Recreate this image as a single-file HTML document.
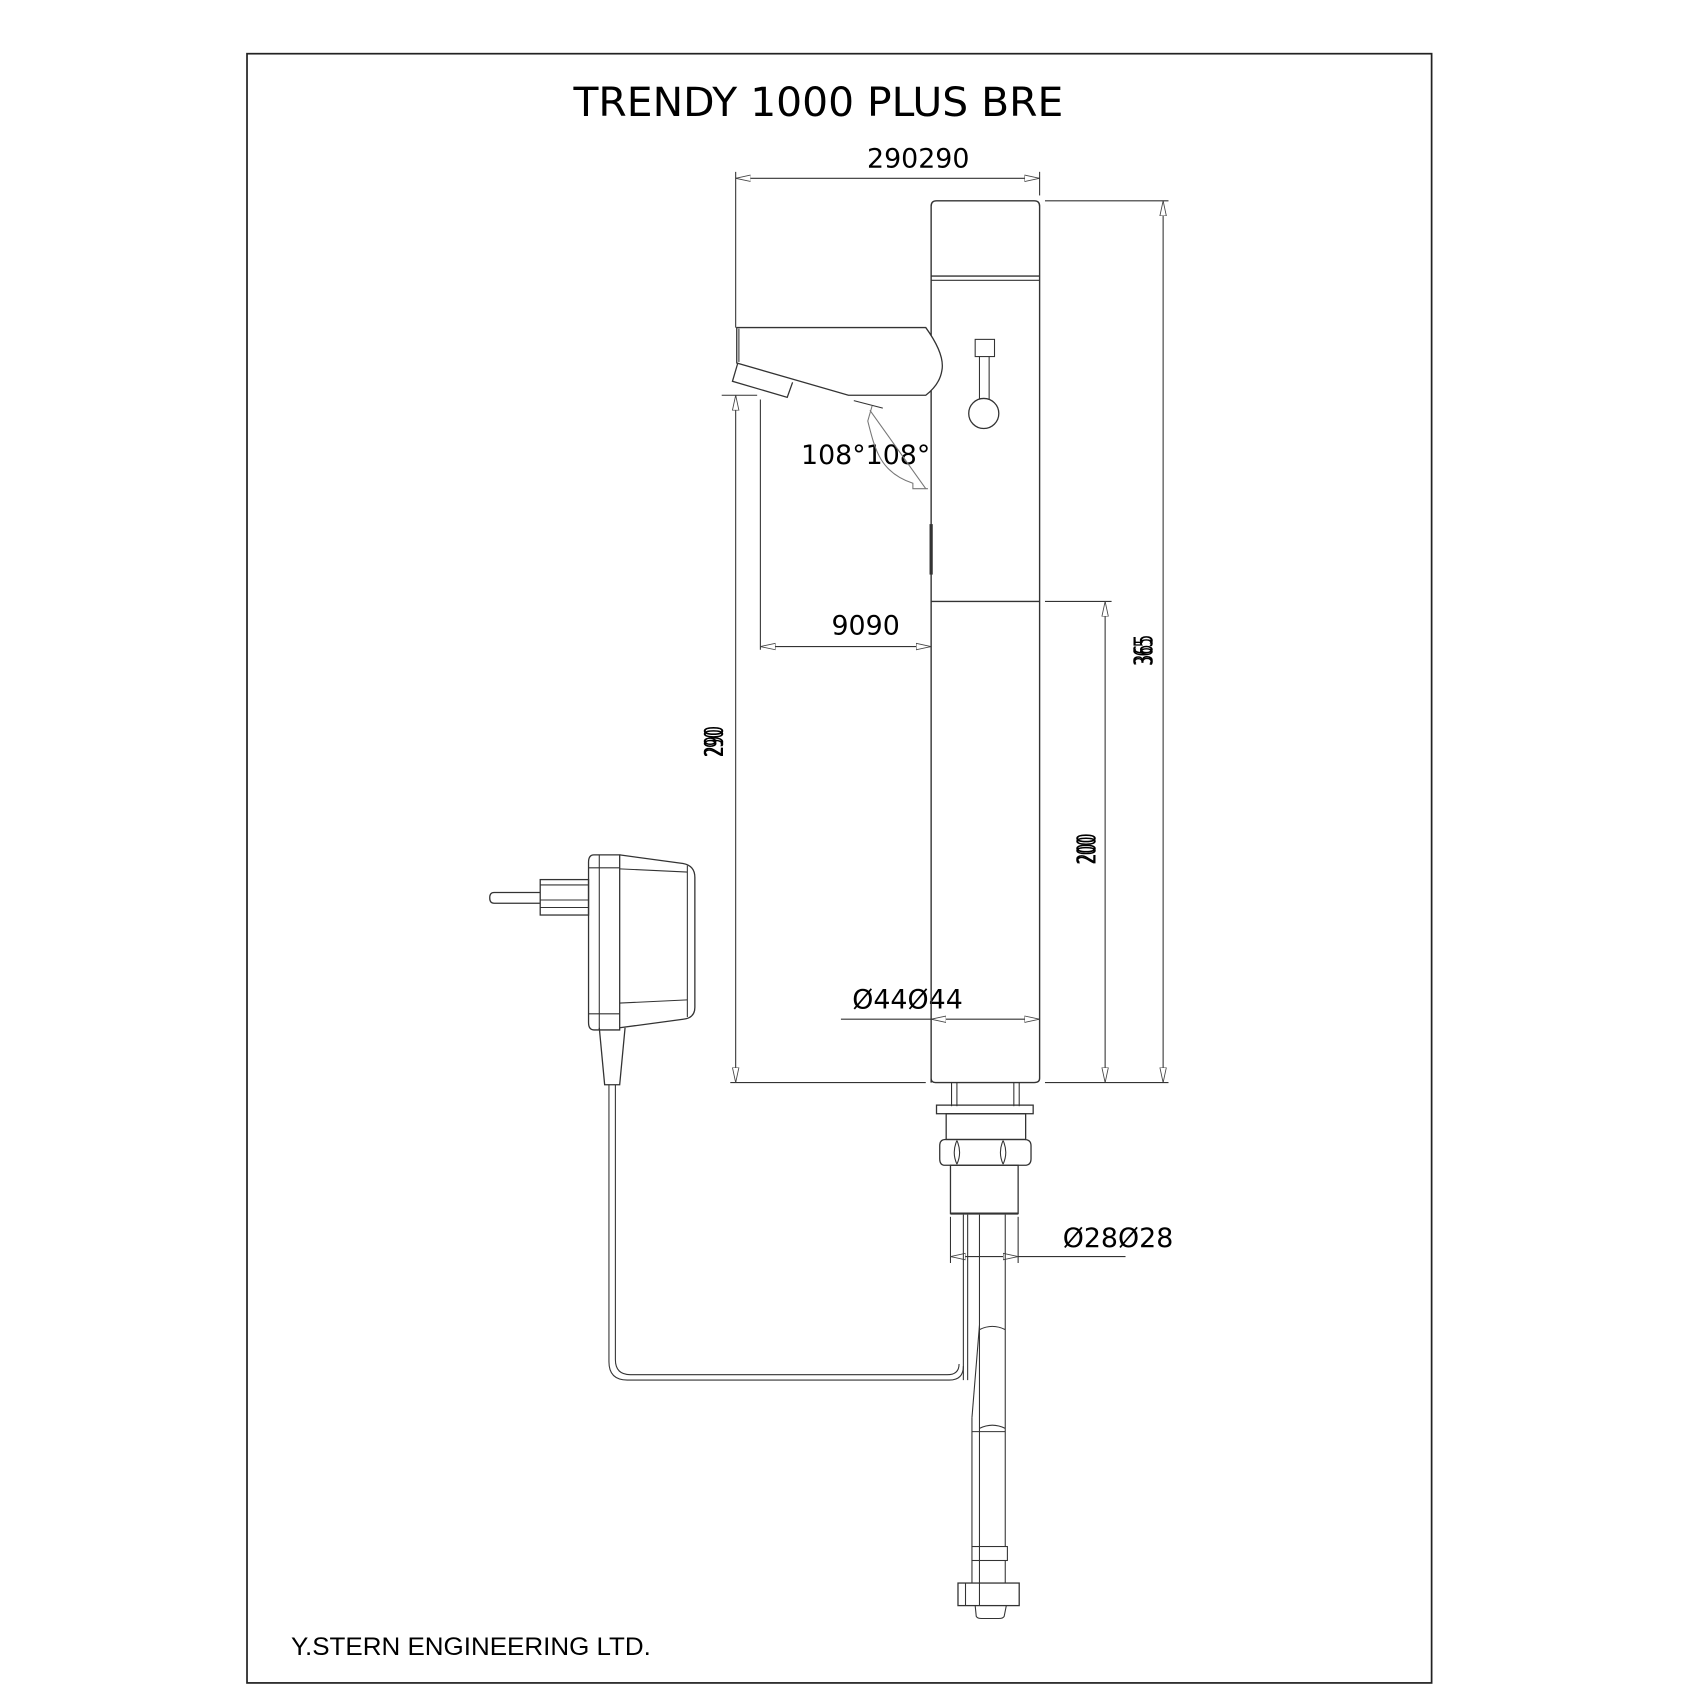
<!DOCTYPE html>
<html><head><meta charset="utf-8"><style>html,body{margin:0;padding:0;background:#fff}svg{display:block}</style></head>
<body>
<svg width="1684" height="1684" viewBox="0 0 1568 1568" xmlns="http://www.w3.org/2000/svg">
<defs>
<marker id="a" markerWidth="14" markerHeight="8" refX="14" refY="4" orient="auto-start-reverse" markerUnits="userSpaceOnUse"><path d="M0,1 L14,4 L0,7 Z" fill="#fff" stroke="#444" stroke-width="0.8"/></marker>
</defs>
<rect width="1568" height="1568" fill="#fff"/>
<rect x="230" y="50" width="1103" height="1517" fill="none" stroke="#222" stroke-width="1.6"/>
<g font-family="'DejaVu Sans','Liberation Sans',sans-serif" fill="#000">
<text x="762" y="108" font-size="37" text-anchor="middle" textLength="456" lengthAdjust="spacingAndGlyphs">TRENDY 1000 PLUS BRE</text>
<text x="855" y="156" font-size="25" text-anchor="middle">290290</text>
<text x="806" y="432" font-size="25" text-anchor="middle">108°108°</text>
<text x="806" y="591" font-size="25" text-anchor="middle">9090</text>
<text x="845" y="939" font-size="25" text-anchor="middle">Ø44Ø44</text>
<text x="1041" y="1161" font-size="25" text-anchor="middle">Ø28Ø28</text>
<text transform="translate(673,690) rotate(-90)" font-size="24" text-anchor="middle" textLength="28" lengthAdjust="spacingAndGlyphs">290</text>
<text transform="translate(673,692) rotate(-90)" font-size="24" text-anchor="middle" textLength="26" lengthAdjust="spacingAndGlyphs">290</text>
<text transform="translate(1073,605) rotate(-90)" font-size="24" text-anchor="middle" textLength="28" lengthAdjust="spacingAndGlyphs">365</text>
<text transform="translate(1073,607) rotate(-90)" font-size="24" text-anchor="middle" textLength="26" lengthAdjust="spacingAndGlyphs">365</text>
<text transform="translate(1020,790) rotate(-90)" font-size="24" text-anchor="middle" textLength="28" lengthAdjust="spacingAndGlyphs">200</text>
<text transform="translate(1020,792) rotate(-90)" font-size="24" text-anchor="middle" textLength="26" lengthAdjust="spacingAndGlyphs">200</text>
</g>
<text x="271" y="1541" font-family="'Liberation Sans',sans-serif" font-size="23" textLength="335" lengthAdjust="spacingAndGlyphs">Y.STERN ENGINEERING LTD.</text>
<g fill="none" stroke="#333" stroke-width="1">
<line x1="685" y1="166" x2="968" y2="166" marker-start="url(#a)" marker-end="url(#a)"/>
<line x1="685" y1="160" x2="685" y2="305"/>
<line x1="968" y1="160" x2="968" y2="182"/>
<line x1="973" y1="187" x2="1088" y2="187"/>
<line x1="1083" y1="187" x2="1083" y2="1008" marker-start="url(#a)" marker-end="url(#a)"/>
<line x1="973" y1="560" x2="1035" y2="560"/>
<line x1="1029" y1="560" x2="1029" y2="1008" marker-start="url(#a)" marker-end="url(#a)"/>
<line x1="680" y1="1008" x2="862" y2="1008"/>
<line x1="973" y1="1008" x2="1088" y2="1008"/>
<line x1="672" y1="368" x2="705" y2="368"/>
<line x1="685" y1="368" x2="685" y2="1008" marker-start="url(#a)" marker-end="url(#a)"/>
<line x1="708" y1="372" x2="708" y2="605"/>
<line x1="708" y1="602" x2="867" y2="602" marker-start="url(#a)" marker-end="url(#a)"/>
<line x1="783" y1="949" x2="867" y2="949"/>
<line x1="867" y1="949" x2="968" y2="949" marker-start="url(#a)" marker-end="url(#a)"/>
<line x1="885" y1="1133" x2="885" y2="1176"/>
<line x1="948" y1="1133" x2="948" y2="1176"/>
<line x1="948" y1="1170" x2="1048" y2="1170"/>
<line x1="885" y1="1170" x2="948" y2="1170" marker-start="url(#a)" marker-end="url(#a)"/>
<line x1="795" y1="373" x2="822" y2="380"/>
<path d="M810,382 L862,455" stroke="#777"/>
<path d="M812,378 L808,392 C815,420 820,440 850,450 L850,455 L864,455" stroke="#777"/>
<path d="M867,1008 L867,192 Q867,187 872,187 L963,187 Q968,187 968,192 L968,1004 Q968,1008 963,1008 L871,1008 Q867,1008 867,1004" stroke-width="1.3"/>
<line x1="867" y1="257" x2="968" y2="257" stroke-width="1.3"/>
<line x1="867" y1="261" x2="968" y2="261"/>
<line x1="867" y1="560" x2="968" y2="560" stroke-width="1.3"/>
<line x1="867" y1="488" x2="867" y2="535" stroke-width="3"/>
<path d="M686,305 L862,305 Q880,330 877,345 Q875,358 862,368 L790,368 L686,338 Z" stroke-width="1.2" fill="#fff"/>
<line x1="688" y1="306" x2="688" y2="337"/>
<path d="M687,338 L682,355 L733,370 L738,356" stroke-width="1.2"/>
<rect x="908" y="316" width="18" height="16"/>
<line x1="912" y1="332" x2="912" y2="372"/>
<line x1="921" y1="332" x2="921" y2="372"/>
<circle cx="916" cy="385" r="14" fill="#fff" stroke-width="1.2"/>
<line x1="886" y1="1008" x2="886" y2="1030"/><line x1="891" y1="1008" x2="891" y2="1030"/>
<line x1="944" y1="1008" x2="944" y2="1030"/><line x1="949" y1="1008" x2="949" y2="1030"/>
<rect x="872" y="1029" width="90" height="8" stroke-width="1.2"/>
<rect x="881" y="1037" width="74" height="24" stroke-width="1.2"/>
<path d="M880,1061 L954,1061 Q960,1061 960,1067 L960,1079 Q960,1085 954,1085 L880,1085 Q875,1085 875,1079 L875,1067 Q875,1061 880,1061 Z" stroke-width="1.2"/>
<path d="M891,1062 Q886,1073 891,1084 M891,1062 Q896,1073 891,1084 M934,1062 Q929,1073 934,1084 M934,1062 Q939,1073 934,1084"/>
<rect x="885" y="1085" width="63" height="45" stroke-width="1.2"/>
<line x1="885" y1="1130" x2="948" y2="1130" stroke-width="2"/>
<line x1="897" y1="1131" x2="897" y2="1285"/>
<line x1="901" y1="1131" x2="901" y2="1285"/>
<line x1="912" y1="1131" x2="912" y2="1440"/>
<line x1="936" y1="1131" x2="936" y2="1440"/>
<line x1="912" y1="1234" x2="905" y2="1320"/>
<line x1="905" y1="1320" x2="905" y2="1440"/>
<path d="M912,1238 Q924,1232 936,1238 M912,1330 Q924,1324 936,1330"/>
<line x1="905" y1="1333" x2="936" y2="1333"/>
<rect x="905" y="1440" width="33" height="13"/>
<line x1="912" y1="1440" x2="912" y2="1474"/>
<line x1="905" y1="1453" x2="905" y2="1474"/>
<line x1="936" y1="1453" x2="936" y2="1474"/>
<rect x="892" y="1474" width="57" height="21" stroke-width="1.2"/>
<line x1="899" y1="1474" x2="899" y2="1495"/>
<line x1="912" y1="1474" x2="912" y2="1495"/>
<path d="M908,1495 L909,1505 Q910,1507 914,1507 L930,1507 Q934,1507 935,1505 L937,1495"/>
<path d="M567,1010 L567,1268 Q567,1285 584,1285 L884,1285 Q897,1285 897,1272"/>
<path d="M573,1010 L573,1266 Q573,1280 587,1280 L882,1280 Q893,1280 893,1270"/>
<path d="M553,796 L577,796 L577,959 L553,959 Q548,959 548,952 L548,803 Q548,796 553,796 Z" stroke-width="1.2" fill="#fff"/>
<line x1="558" y1="796" x2="558" y2="959"/>
<line x1="548" y1="808" x2="577" y2="808"/>
<line x1="548" y1="944" x2="577" y2="944"/>
<path d="M577,796 L636,804 Q647,806 647,817 L647,938 Q647,948 636,949 L577,957" stroke-width="1.2"/>
<line x1="577" y1="809" x2="640" y2="812"/>
<line x1="577" y1="934" x2="640" y2="931"/>
<line x1="640" y1="806" x2="640" y2="947"/>
<rect x="503" y="819" width="45" height="33" stroke-width="1.2"/>
<line x1="503" y1="824" x2="548" y2="824"/>
<line x1="503" y1="838" x2="548" y2="838"/>
<line x1="503" y1="845" x2="548" y2="845"/>
<path d="M503,831 L460,831 Q456,831 456,836 Q456,841 460,841 L503,841" stroke-width="1.2"/>
<path d="M558,957 L563,1010 L577,1010 L582,957" stroke-width="1.2"/>
</g>
</svg>
</body></html>
